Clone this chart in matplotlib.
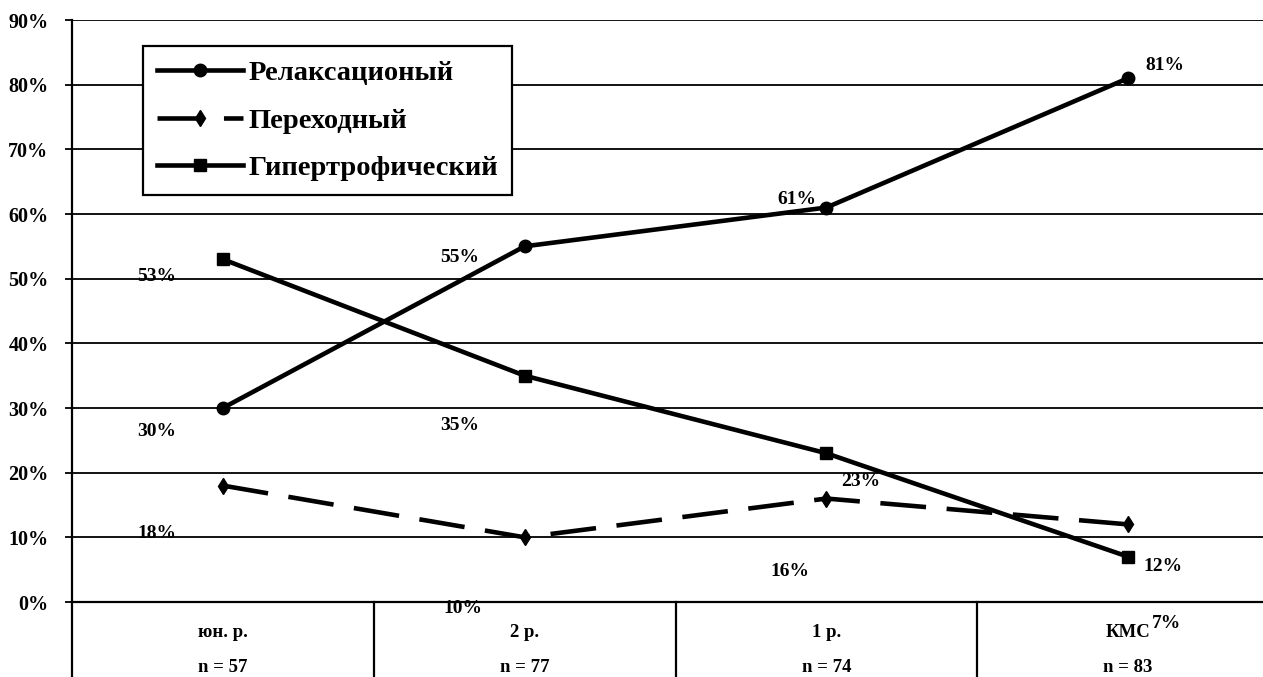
import matplotlib
matplotlib.use("Agg")
import matplotlib.pyplot as plt
import matplotlib.transforms as mtransforms

categories = ['юн. р.', '2 р.', '1 р.', 'КМС']
counts = ['n = 57', 'n = 77', 'n = 74', 'n = 83']
relax = [30, 55, 61, 81]
trans = [18, 10, 16, 12]
hyper = [53, 35, 23, 7]

# label offsets in pixels (dx, dy) - placed like the original
relax_off = [(-66, -24), (-65, -11), (-29, 8), (37, 13)]
trans_off = [(-66, -48), (-62, -71), (-36, -73), (35, -42)]
hyper_off = [(-66, -17), (-65, -50), (34, -28), (38, -67)]

plt.rcParams['font.family'] = ['Liberation Serif', 'DejaVu Serif']
plt.rcParams['font.weight'] = 'bold'

fig = plt.figure(figsize=(12.63, 6.77), dpi=100)
ax = fig.add_axes([72/1263, 75/677, 1207/1263, 582/677])

x = list(range(len(categories)))
lw = 3.3
l1, = ax.plot(x, relax, color='black', lw=lw, marker='o', ms=9, label='Релаксационый')
l2, = ax.plot(x, trans, color='black', lw=lw, marker='d', ms=8, dashes=(10, 4.5),
              label='Переходный')
l3, = ax.plot(x, hyper, color='black', lw=lw, marker='s', ms=8.5, label='Гипертрофический')

for vals, offs in [(relax, relax_off), (trans, trans_off), (hyper, hyper_off)]:
    for xi, v, (dx, dy) in zip(x, vals, offs):
        ax.annotate(f'{v}%', (xi, v), xytext=(dx * 0.72, dy * 0.72),
                    textcoords='offset points', ha='center', va='center',
                    fontsize=14, fontweight='bold', annotation_clip=False)

ax.set_xlim(-0.5, 3.5)
ax.set_ylim(0, 90)
ax.set_yticks(range(0, 91, 10))
ax.set_yticklabels([f'{t}%' for t in range(0, 91, 10)], fontsize=14.5, fontweight='bold')
ax.yaxis.grid(True, color='black', lw=1.3)
ax.set_axisbelow(True)
ax.tick_params(axis='y', length=5, width=1.3, pad=12)
ax.set_xticks([])
for s in ['top', 'right']:
    ax.spines[s].set_visible(False)
ax.spines['left'].set_linewidth(1.6)
ax.spines['bottom'].set_linewidth(1.6)

# table-like category axis
trans_b = mtransforms.blended_transform_factory(ax.transData, ax.transAxes)
for b in [-0.5, 0.5, 1.5, 2.5, 3.5]:
    ax.plot([b, b], [0, -0.2], color='black', lw=1.6, transform=trans_b, clip_on=False)
for xi, c in zip(x, categories):
    ax.text(xi, -0.052, c, transform=trans_b, ha='center', va='center',
            fontsize=13.5, fontweight='bold')
for xi, n in zip(x, counts):
    ax.text(xi, -0.113, n, transform=trans_b, ha='center', va='center',
            fontsize=13.5, fontweight='bold')

leg = ax.legend(handles=[l1, l2, l3], loc='upper left', bbox_to_anchor=(0.0588, 0.955),
                borderaxespad=0,
                prop={'family': 'Liberation Serif', 'weight': 'bold', 'size': 20.5},
                frameon=True, fancybox=False, edgecolor='black', framealpha=1,
                handlelength=3.0, handletextpad=0.2, borderpad=0.5, labelspacing=0.75)
leg.get_frame().set_linewidth(1.6)

fig.savefig('out.png', dpi=100)
